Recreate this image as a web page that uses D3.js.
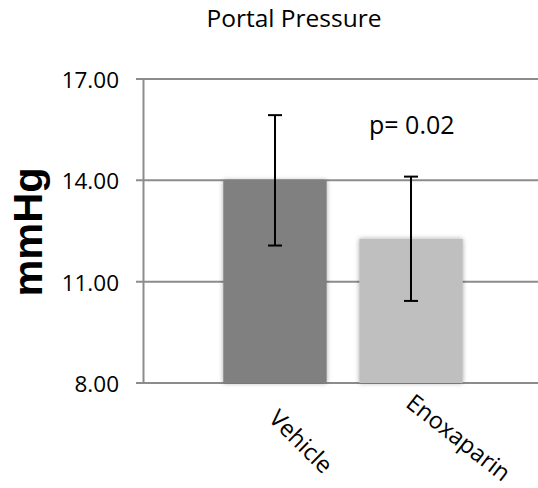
<!DOCTYPE html>
<html>
<head>
<meta charset="utf-8">
<script src="https://cdn.jsdelivr.net/npm/d3@7"></script>
<style>
  html, body { margin: 0; padding: 0; background: #fff; }
</style>
</head>
<body>
<div id="chart"></div>
<script>
// chart data
var categories = ["Vehicle", "Enoxaparin"];
var means = [14.0, 12.27];
var errors = [1.93, 1.84];
var barColors = ["#808080", "#bfbfbf"];
var yTicks = [8, 11, 14, 17];
var titleText = "Portal Pressure";
var yLabel = "mmHg";
var pText = "p= 0.02";

var width = 538;
var height = 488;
// label slant as it shows in the picture (the long one sits flatter)
var labelAngles = [45, 38];

var svg = d3.select("#chart").append("svg")
    .attr("width", width)
    .attr("height", height);

// soft shadow like the excel bars
var defs = svg.append("defs");
var shadow = defs.append("filter")
    .attr("id", "barShadow")
    .attr("x", "-20%").attr("y", "-20%")
    .attr("width", "140%").attr("height", "140%");
shadow.append("feGaussianBlur")
    .attr("in", "SourceAlpha")
    .attr("stdDeviation", 2.5)
    .attr("result", "blur");
shadow.append("feComponentTransfer")
    .append("feFuncA").attr("type", "linear").attr("slope", 0.35);
var merge = shadow.append("feMerge");
merge.append("feMergeNode");
merge.append("feMergeNode").attr("in", "SourceGraphic");

var x = d3.scaleBand()
    .domain(categories)
    .range([143, 543])
    .paddingInner(0.24)
    .paddingOuter(0.59);

var y = d3.scaleLinear()
    .domain([8, 17])
    .range([383, 79]);

// gridlines
svg.append("g")
    .selectAll("line")
    .data(yTicks)
    .enter()
    .append("line")
    .attr("x1", 136)
    .attr("x2", 543)
    .attr("y1", function(d) { return y(d); })
    .attr("y2", function(d) { return y(d); })
    .attr("stroke", "#8c8c8c")
    .attr("stroke-width", 2);

// y axis line
svg.append("line")
    .attr("x1", 143.5).attr("x2", 143.5)
    .attr("y1", y(17)).attr("y2", y(8))
    .attr("stroke", "#8c8c8c")
    .attr("stroke-width", 2);

// tick labels
svg.append("g")
    .selectAll("text")
    .data(yTicks)
    .enter()
    .append("text")
    .attr("x", 119)
    .attr("y", function(d) { return y(d) + 9; })
    .attr("text-anchor", "end")
    .attr("font-family", "'Open Sans', sans-serif")
    .attr("font-size", "22.5px")
    .attr("fill", "#000")
    .text(function(d) { return d3.format(".2f")(d); });

// bars
svg.append("g")
    .selectAll("rect")
    .data(categories)
    .enter()
    .append("rect")
    .attr("x", function(d) { return x(d); })
    .attr("y", function(d, i) { return y(means[i]); })
    .attr("width", x.bandwidth())
    .attr("height", function(d, i) { return y(8) - y(means[i]); })
    .attr("fill", function(d, i) { return barColors[i]; })
    .attr("filter", "url(#barShadow)");

// error bars
var errG = svg.append("g")
    .attr("stroke", "#000")
    .attr("stroke-width", 2);
categories.forEach(function(c, i) {
  var cx = x(c) + x.bandwidth() / 2;
  var top = y(means[i] + errors[i]);
  var bot = y(means[i] - errors[i]);
  errG.append("line").attr("x1", cx).attr("x2", cx).attr("y1", top).attr("y2", bot);
  errG.append("line").attr("x1", cx - 7).attr("x2", cx + 7).attr("y1", top).attr("y2", top);
  errG.append("line").attr("x1", cx - 7).attr("x2", cx + 7).attr("y1", bot).attr("y2", bot);
});

// category labels, slanted down to the right
svg.append("g")
    .selectAll("text")
    .data(categories)
    .enter()
    .append("text")
    .attr("font-family", "'Open Sans', sans-serif")
    .attr("font-size", "23.5px")
    .attr("fill", "#000")
    .attr("text-anchor", "middle")
    .attr("dominant-baseline", "central")
    .text(function(d) { return d; })
    .attr("transform", function(d, i) {
      var len = this.getComputedTextLength();
      var a = labelAngles[i];
      var cx = x(d) + x.bandwidth() / 2 + len / 2 * Math.cos(a * Math.PI / 180) - 1;
      var cy = 441 - i * 4;
      return "translate(" + cx + "," + cy + ") rotate(" + a + ")";
    });

// title
svg.append("text")
    .attr("x", 294)
    .attr("y", 27)
    .attr("text-anchor", "middle")
    .attr("font-family", "'Open Sans', sans-serif")
    .attr("font-size", "24.5px")
    .attr("fill", "#000")
    .text(titleText);

// y label
svg.append("text")
    .attr("transform", "translate(41.5,232) rotate(-90)")
    .attr("text-anchor", "middle")
    .attr("font-family", "'Liberation Sans', Arial, sans-serif")
    .attr("font-weight", "bold")
    .attr("font-size", "41.5px")
    .attr("fill", "#000")
    .text(yLabel);

// p value annotation
svg.append("text")
    .attr("x", 369)
    .attr("y", 134)
    .attr("font-family", "'Open Sans', sans-serif")
    .attr("font-size", "25px")
    .attr("fill", "#000")
    .text(pText);
</script>
</body>
</html>
